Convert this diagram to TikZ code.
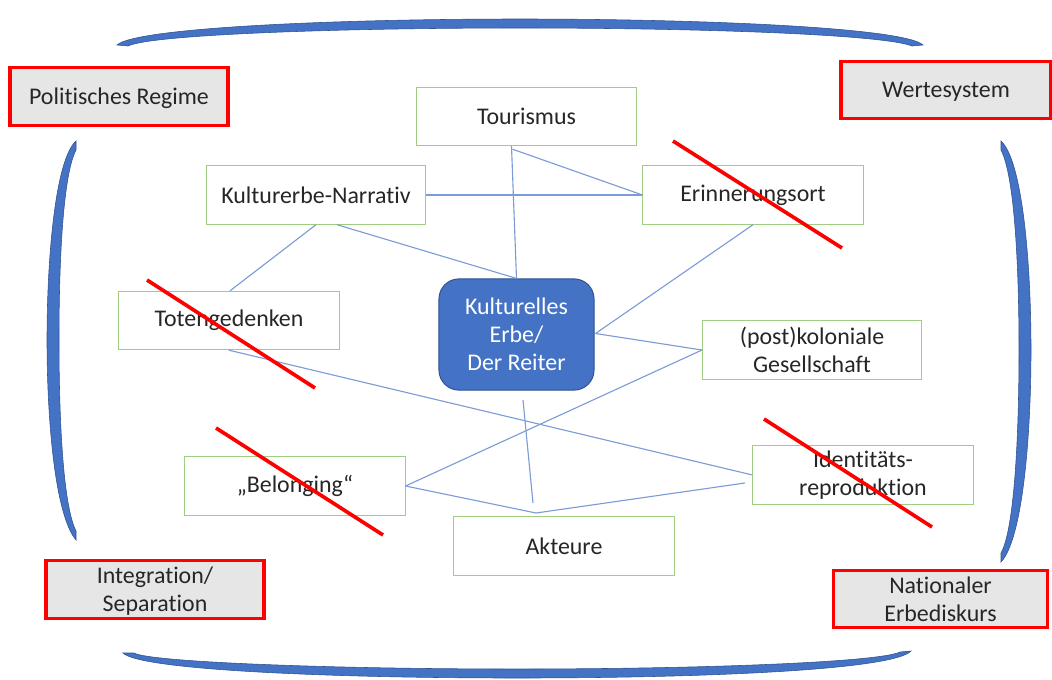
\documentclass[tikz,border=0pt]{standalone}
\usepackage{fontspec}
\setmainfont{Carlito}[Ligatures={NoCommon}]
\usetikzlibrary{calc}

\definecolor{boxgreen}{RGB}{160,205,130}
\definecolor{linkblue}{RGB}{125,155,215}
\definecolor{erbeblue}{RGB}{68,114,196}
\definecolor{erbeedge}{RGB}{47,82,143}
\definecolor{framegrey}{RGB}{231,230,230}
\definecolor{strikered}{RGB}{255,0,0}

\tikzset{
  txt/.style={font=\fontsize{17}{20}\selectfont, align=center, text=black!85},
  topic/.style={txt, draw=boxgreen, line width=0.7pt, fill=white,
    minimum width=5.5cm, minimum height=1.46cm, inner sep=0pt},
  frame/.style={txt, draw=strikered, line width=2.2pt, fill=framegrey,
    minimum width=5.45cm, minimum height=1.43cm, inner sep=0pt, text depth=0pt},
  core/.style={txt, text=white, draw=erbeedge, line width=0.7pt, fill=erbeblue,
    rounded corners=0.5cm, minimum width=3.875cm, minimum height=2.78cm, inner sep=0pt},
  link/.style={draw=linkblue, line width=0.8pt},
  strike/.style={draw=strikered, line width=2.6pt},
  brace/.style={fill=erbeblue, draw=erbeedge, line width=0.4pt},
}

\begin{document}
\begin{tikzpicture}[x=0.025cm, y=-0.025cm]
\useasboundingbox (0,0) rectangle (1052,679);

% outer brackets
\path[brace] (117,45) .. controls (135,28) and (330,19) .. (520,19)
  .. controls (710,19) and (905,28) .. (923,45) -- (912,46)
  .. controls (885,35) and (710,28) .. (520,28)
  .. controls (330,28) and (150,35) .. (128,46) -- cycle;
\path[brace] (123,653) .. controls (140,670) and (330,678) .. (517,678)
  .. controls (705,678) and (893,670) .. (911,651) -- (900,652)
  .. controls (880,662) and (705,669) .. (517,669)
  .. controls (330,669) and (150,662) .. (134,653) -- cycle;
\path[brace] (76,141) .. controls (55,160) and (47,260) .. (47,340)
  .. controls (47,420) and (55,515) .. (76,540) -- (76,531)
  .. controls (63,505) and (59,420) .. (59,340)
  .. controls (59,260) and (63,175) .. (76,150) -- cycle;
\path[brace] (1001,141) .. controls (1022,160) and (1031,260) .. (1031,350)
  .. controls (1031,440) and (1022,540) .. (1001,562) -- (1001,553)
  .. controls (1014,530) and (1019,440) .. (1019,350)
  .. controls (1019,260) and (1014,175) .. (1001,150) -- cycle;

% context frames
\node[frame] (polit) at (119,96.5) {Politisches Regime};
\node[frame, minimum width=5.25cm] (werte) at (946,90) {Wertesystem};
\node[frame] (integ) at (155,589.5) {Integration/\\Separation};
\node[frame, minimum width=5.35cm] (natio) at (940.5,599) {Nationaler\\Erbediskurs};

% topic boxes
\node[topic] (tour) at (526.5,116.5) {Tourismus};
\node[topic, minimum width=5.45cm] (narr) at (316,195) {Kulturerbe-Narrativ};
\node[topic] (erin) at (753,195) {Erinnerungsort};
\node[topic] (toten) at (229,320.5) {Totengedenken};
\node[topic, minimum width=5.475cm] (post) at (812,350) {(post)koloniale\\Gesellschaft};
\node[topic] (belong) at (295,486) {„Belonging“};
\node[topic] (akt) at (564,546) {Akteure};
\node[topic] (ident) at (863,475) {Identitäts-\\reproduktion};
\node[core] (erbe) at (516.5,334.5) {Kulturelles\\Erbe/\\Der Reiter};

% loose ends
\coordinate (erbeend) at (523,400);
\coordinate (aktend) at (533,503);
\coordinate (aktjoin) at (536,513);
\coordinate (identend) at (745,483);

% links
\draw[link] ($(tour.south)+(-15,0)$) -- (erbe.north);
\draw[link] ($(tour.south)+(-14,3)$) -- (erin.west);
\draw[link] (narr.east) -- (erin.west);
\draw[link] (narr.south) -- ($(toten.north)+(1,0)$);
\draw[link] ($(narr.south)+(21,0)$) -- (erbe.north);
\draw[link] (erin.south) -- ($(erbe.east)+(1,-1)$);
\draw[link] ($(erbe.east)+(1,-1)$) -- (post.west);
\draw[link] (post.west) -- (belong.east);
\draw[link] (toten.south) -- (ident.west);
\draw[link] (erbeend) -- (aktend);
\draw[link] (belong.east) -- (aktjoin);
\draw[link] (aktjoin) -- (identend);

% struck-out topics
\draw[strike] (673,141) -- (842,248);
\draw[strike] (147,280) -- (315,388);
\draw[strike] (216,428) -- (383,535);
\draw[strike] (764,419) -- (932,527);
\end{tikzpicture}
\end{document}
